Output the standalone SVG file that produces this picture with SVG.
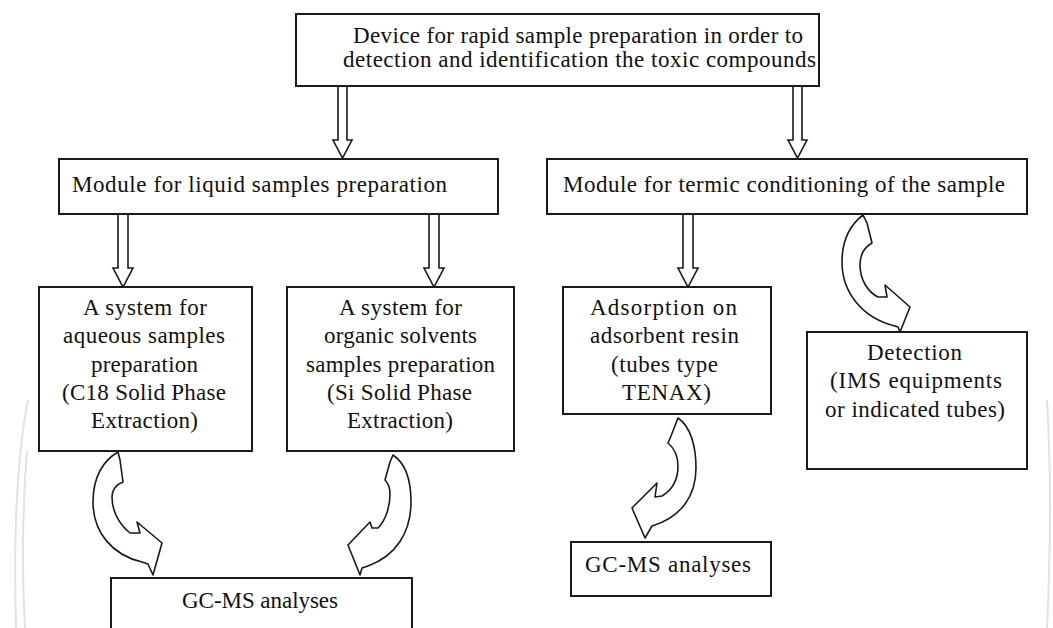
<svg xmlns="http://www.w3.org/2000/svg" width="1053" height="628" viewBox="0 0 1053 628">
<style>
.box{fill:#fff;stroke:#1a1a1a;stroke-width:2}
.t{font-family:"Liberation Serif","Times New Roman",serif;font-size:23px;fill:#111}
.arr{fill:#fff;stroke:#1a1a1a;stroke-width:1.6;stroke-linejoin:miter}
.curv{fill:#fff;stroke:#1a1a1a;stroke-width:1.6;stroke-linejoin:round}
.faint{fill:none;stroke:#e2e2e2;stroke-width:2}
</style>
<rect width="1053" height="628" fill="#fff"/>
<g id="background">
<path class="faint" d="M28,400 Q12,480 16,628"/>
<path class="faint" d="M27,450 Q20,540 25,628"/>
<path class="faint" d="M1047,400 Q1053,500 1047,628"/>
</g>
<g id="connectors">
<path class="arr" d="M338,86 V140 H333 L342.5,158 L352,140 H347 V86"/>
<path class="arr" d="M793,86 V140 H788 L797.5,158 L807,140 H802 V86"/>
<path class="arr" d="M118,214 V268 H113 L123,287 L133,268 H128 V214"/>
<path class="arr" d="M429,214 V268 H424 L434,287 L444,268 H439 V214"/>
<path class="arr" d="M683,214 V268 H678 L688,287 L698,268 H693 V214"/>
<path class="curv" d="M118,452 C104,460 93,476 93,502 C93,532 112,555 142,562 L148,564 L153,575 L162,543 L137,522 L140,533 L130,533 C120,525 112,512 112,497 C112,490 115,485 123,482 L120,460 Z"/>
<path class="curv" d="M393,455 C405,463 411,478 411,502 C411,532 396,556 368,566 L362,568 L360,575 L348,545 L370,522 L372,528 L378,528 C386,520 390,506 390,494 C390,487 388,483 385,480 L390,462 Z"/>
<path class="curv" d="M678,418 C690,426 696,445 696,468 C696,495 682,517 652,526 L645,538 L632,508 L657,483 L655,497 L662,496 C672,490 678,480 678,466 C678,456 674,448 668,443 L671,436 Z"/>
<path class="curv" d="M863,215 C850,225 842,240 842,262 C842,292 862,318 895,326 L898,327 L900,332 L910,307 L885,285 L887,297 L878,297 C868,292 860,280 860,265 C860,255 863,248 872,243 L867,223 Z"/>
</g>
<g id="top">
<rect class="box" x="296" y="14" width="523" height="72"/>
<text class="t" x="353" y="43" textLength="450" lengthAdjust="spacing">Device for rapid sample preparation in order to</text>
<text class="t" x="343" y="67" textLength="473" lengthAdjust="spacing">detection and identification the toxic compounds</text>
</g>
<g id="module-liquid">
<rect class="box" x="59" y="159" width="439" height="55"/>
<text class="t" x="72" y="192" textLength="375" lengthAdjust="spacing">Module for liquid samples preparation</text>
</g>
<g id="module-termic">
<rect class="box" x="547" y="159" width="480" height="55"/>
<text class="t" x="563" y="192" textLength="442" lengthAdjust="spacing">Module for termic conditioning of the sample</text>
</g>
<g id="system-aqueous">
<rect class="box" x="39" y="287" width="213" height="164"/>
<text class="t" x="83" y="315" textLength="124" lengthAdjust="spacing">A system for</text>
<text class="t" x="63" y="343" textLength="162" lengthAdjust="spacing">aqueous samples</text>
<text class="t" x="91" y="372" textLength="107" lengthAdjust="spacing">preparation</text>
<text class="t" x="62" y="400" textLength="164" lengthAdjust="spacing">(C18 Solid Phase</text>
<text class="t" x="91" y="428" textLength="107" lengthAdjust="spacing">Extraction)</text>
</g>
<g id="system-organic">
<rect class="box" x="287" y="287" width="227" height="164"/>
<text class="t" x="339" y="315" textLength="123" lengthAdjust="spacing">A system for</text>
<text class="t" x="324" y="343" textLength="153" lengthAdjust="spacing">organic solvents</text>
<text class="t" x="306" y="372" textLength="189" lengthAdjust="spacing">samples preparation</text>
<text class="t" x="327" y="400" textLength="145" lengthAdjust="spacing">(Si Solid Phase</text>
<text class="t" x="347" y="428" textLength="106" lengthAdjust="spacing">Extraction)</text>
</g>
<g id="adsorption">
<rect class="box" x="563" y="287" width="208" height="127"/>
<text class="t" x="590" y="315" textLength="147" lengthAdjust="spacing">Adsorption  on</text>
<text class="t" x="590" y="343" textLength="149" lengthAdjust="spacing">adsorbent resin</text>
<text class="t" x="611" y="372" textLength="107" lengthAdjust="spacing">(tubes type</text>
<text class="t" x="622" y="400" textLength="89" lengthAdjust="spacing">TENAX)</text>
</g>
<g id="detection">
<rect class="box" x="807" y="332" width="220" height="137"/>
<text class="t" x="867" y="360" textLength="95" lengthAdjust="spacing">Detection</text>
<text class="t" x="830" y="388" textLength="172" lengthAdjust="spacing">(IMS equipments</text>
<text class="t" x="825" y="417" textLength="180" lengthAdjust="spacing">or indicated tubes)</text>
</g>
<g id="gcms-left">
<rect class="box" x="111" y="578" width="301" height="70"/>
<text class="t" x="182" y="608" textLength="156" lengthAdjust="spacing">GC-MS analyses</text>
</g>
<g id="gcms-right">
<rect class="box" x="571" y="542" width="200" height="54"/>
<text class="t" x="585" y="572" textLength="166" lengthAdjust="spacing">GC-MS analyses</text>
</g>
</svg>
